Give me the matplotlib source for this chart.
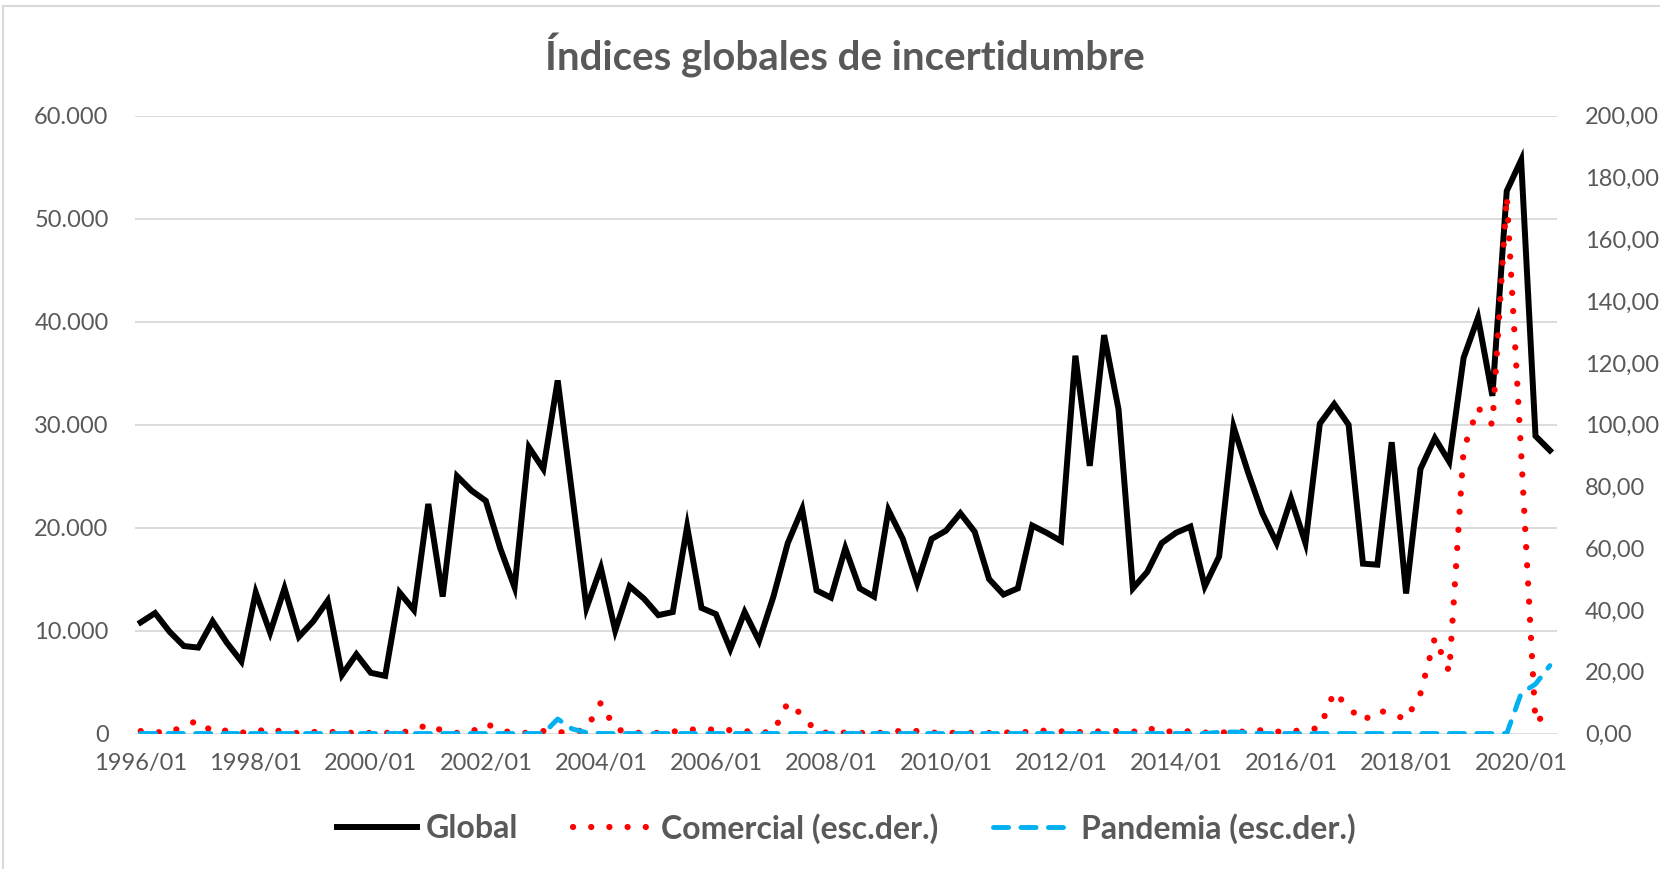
import matplotlib
matplotlib.use("Agg")
import matplotlib.pyplot as plt
from matplotlib.patches import Rectangle

plt.rcParams['font.family'] = ['Lato', 'DejaVu Sans']

# quarterly data 1996Q1 - 2020Q3
global_idx = [10800, 11700, 9900, 8500, 8350, 10900, 8800, 7000, 13700, 9800,
              14100, 9400, 10900, 12900, 5700, 7700, 5900, 5600, 13700, 12000,
              22300, 13300, 25000, 23600, 22600, 18000, 14200, 27800, 25700, 34300,
              23300, 12200, 16100, 10000, 14300, 13100, 11500, 11800, 20100, 12200,
              11600, 8200, 11800, 9000, 13300, 18500, 21800, 13900, 13200, 18000,
              14100, 13300, 21700, 18900, 14600, 18900, 19700, 21400, 19600, 15000,
              13500, 14100, 20200, 19500, 18700, 36700, 26000, 38700, 31500, 14100,
              15700, 18500, 19500, 20100, 14300, 17200, 29800, 25400, 21400, 18500,
              22800, 18500, 30100, 32000, 30000, 16500, 16400, 28300, 13600, 25700,
              28700, 26400, 36500, 40400, 32800, 52700, 55700, 28900, 27500]

comercial = [0.8, 0.5, 0.3, 2.5, 4.2, 0.5, 1.0, 0.3, 0.5, 1.8,
             0.2, 0.2, 0.5, 0.6, 0.3, 0.2, 0.2, 0.2, 0.3, 1.0,
             3.0, 0.8, 0.2, 0.5, 3.3, 1.0, 0.2, 0.2, 0.8, 0.5,
             0.2, 1.5, 10.0, 1.5, 0.3, 0.2, 0.2, 0.6, 1.3, 1.3,
             1.3, 1.1, 0.8, 0.3, 0.5, 10.0, 6.0, 0.5, 0.2, 0.3,
             0.2, 0.2, 0.3, 1.0, 0.8, 0.3, 0.2, 0.3, 0.2, 0.2,
             0.3, 0.4, 0.6, 1.0, 0.7, 0.5, 0.5, 0.8, 0.8, 0.5,
             1.9, 0.5, 0.8, 0.7, 0.3, 0.3, 0.5, 0.7, 1.1, 0.6,
             0.7, 1.2, 1.8, 13.5, 8.4, 4.0, 7.5, 6.5, 4.5, 13.0,
             31.0, 20.0, 92.0, 105.5, 100.0, 174.0, 91.0, 3.5, 7.5]

pandemia = [0, 0, 0, 0, 0, 0, 0, 0, 0, 0,
            0, 0, 0, 0, 0, 0, 0, 0, 0, 0,
            0, 0, 0, 0, 0, 0, 0, 0, 0, 4.7,
            1.5, 0.3, 0, 0, 0, 0, 0, 0, 0, 0,
            0, 0, 0, 0, 0, 0, 0, 0, 0, 0,
            0, 0, 0, 0, 0, 0, 0, 0, 0, 0,
            0, 0, 0, 0, 0, 0, 0, 0, 0, 0,
            0, 0, 0, 0, 0, 0.4, 0.5, 0.3, 0, 0,
            0, 0, 0, 0, 0, 0, 0, 0, 0, 0,
            0, 0, 0, 0, 0, 0, 13.0, 16.0, 22.0]

x = list(range(len(global_idx)))
tick_pos = list(range(0, len(x), 8))
tick_lbl = [f"{1996 + p // 4}/01" for p in tick_pos]

gray = '#595959'
grid = '#d9d9d9'

fig = plt.figure(figsize=(16.6, 8.69), dpi=100)
ax = fig.add_axes([0.0813, 0.1559, 0.938 - 0.0813, 0.8667 - 0.1559])
ax2 = ax.twinx()

l1, = ax.plot(x, global_idx, color='black', lw=4.3, solid_joinstyle='miter',
              label='Global', zorder=3)
l2, = ax2.plot(x, comercial, color='#ff0000', lw=4.5, linestyle=(0, (0.01, 2.9)),
               dash_capstyle='round', label='Comercial (esc.der.)', zorder=4)
l3, = ax2.plot(x, pandemia, color='#00b0f0', lw=3.5, linestyle=(0, (3.1, 2.55)),
               dash_capstyle='round', label='Pandemia (esc.der.)', zorder=5)

ax.set_xlim(-0.4, 98.5)
ax.set_ylim(0, 60000)
ax2.set_ylim(0, 200)
ax.set_yticks(range(0, 60001, 10000))
ax.set_yticklabels([f"{v:,.0f}".replace(',', '.') for v in range(0, 60001, 10000)])
ax2.set_yticks(range(0, 201, 20))
ax2.set_yticklabels([f"{v:.2f}".replace('.', ',') for v in range(0, 201, 20)])
ax.set_xticks(tick_pos)
ax.set_xticklabels(tick_lbl)

ax.grid(axis='y', color=grid, lw=1.3)
ax.set_axisbelow(True)
for a in (ax, ax2):
    for s in a.spines.values():
        s.set_visible(False)
    a.tick_params(length=0, labelsize=17, labelcolor=gray)
ax.tick_params(axis='y', pad=19)
ax2.tick_params(axis='y', pad=20)
ax.tick_params(axis='x', pad=14)

fig.text(0.509, 0.9367, 'Índices globales de incertidumbre', ha='center', va='center',
         fontsize=29, fontweight='bold', color=gray)

leg = fig.legend(handles=[l1, l2, l3], loc='center', bbox_to_anchor=(0.51, 0.047),
                 ncol=3, frameon=False, fontsize=23, handlelength=2.5,
                 handletextpad=0.27, columnspacing=1.7)
for t in leg.get_texts():
    t.set_color(gray)
    t.set_fontweight('bold')

fig.patches.append(Rectangle((0.0018, -0.05), 1.2, 0.993 + 0.05, transform=fig.transFigure,
                             fill=False, edgecolor=grid, lw=1.5))

fig.savefig('out.png', dpi=100)
